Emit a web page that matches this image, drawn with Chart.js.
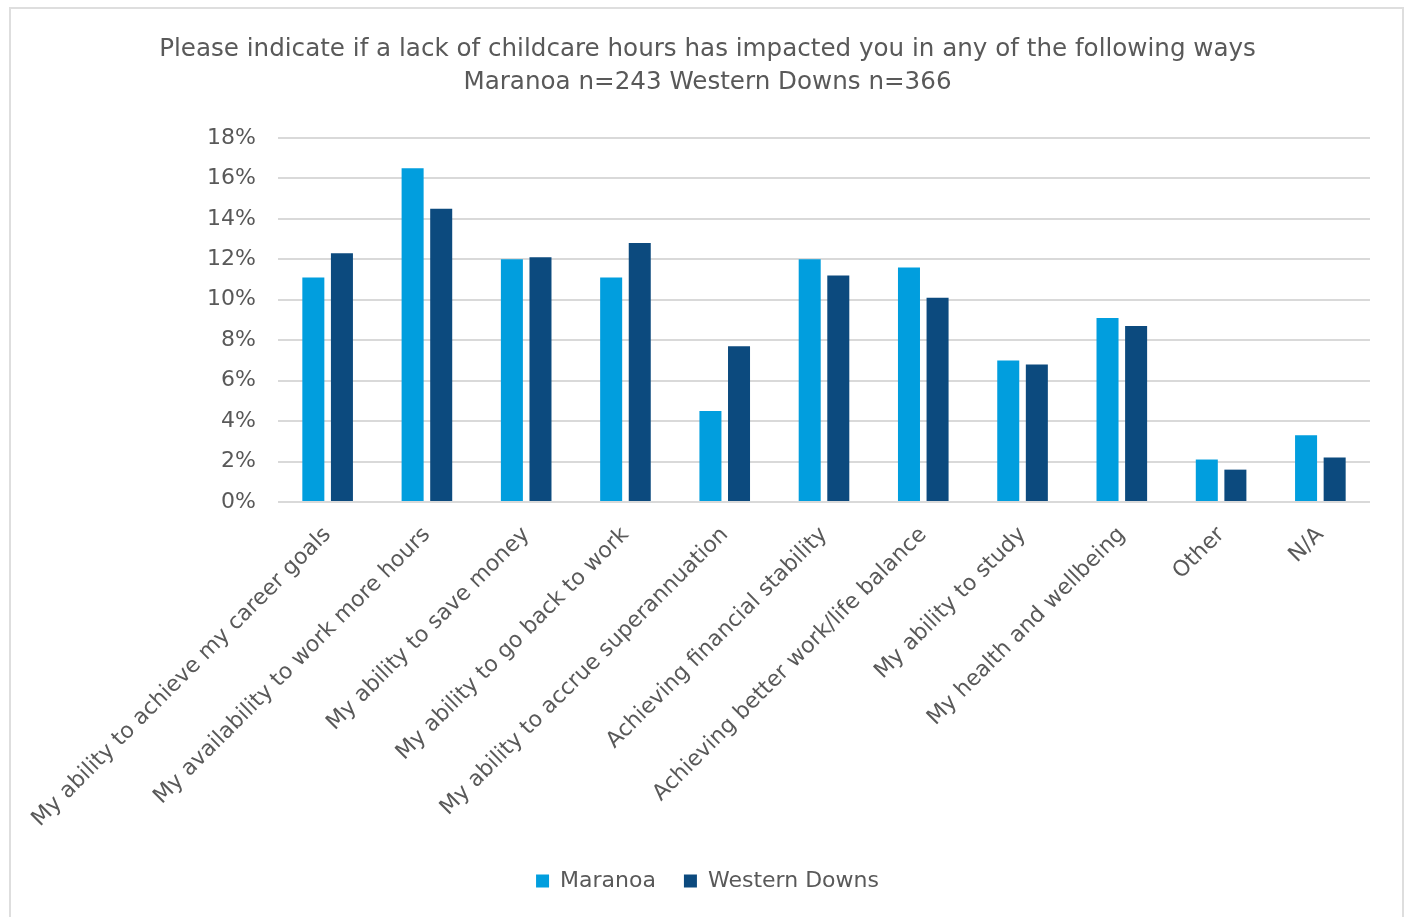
<!DOCTYPE html>
<html>
<head>
<meta charset="utf-8">
<script src="https://cdn.jsdelivr.net/npm/chart.js@4.4.1/dist/chart.umd.min.js"></script>
<style>
  html, body { margin: 0; padding: 0; background: #ffffff; }
  #frame {
    position: absolute; left: 9px; top: 7px; width: 1395px; height: 912px;
    border: 2px solid #dedede; box-sizing: border-box; background: #fff;
  }
  #wrap { position: absolute; left: 0; top: 0; width: 1391px; height: 908px; }
</style>
</head>
<body>
<div id="frame"><div id="wrap"><canvas id="chart"></canvas></div></div>
<script>
// Ways a lack of childcare hours has affected respondents
const categories = [
  "My ability to achieve my career goals",
  "My availability to work more hours",
  "My ability to save money",
  "My ability to go back to work",
  "My ability to accrue superannuation",
  "Achieving financial stability",
  "Achieving better work/life balance",
  "My ability to study",
  "My health and wellbeing",
  "Other",
  "N/A"
];
// Share of respondents (%)
const maranoa       = [11.1, 16.5, 12.0, 11.1, 4.5, 12.0, 11.6, 7.0, 9.1, 2.1, 3.3];
const westernDowns  = [12.3, 14.5, 12.1, 12.8, 7.7, 11.2, 10.1, 6.8, 8.7, 1.6, 2.2];
const yTicks        = [0, 2, 4, 6, 8, 10, 12, 14, 16, 18];
const titleLines    = [
  "Please indicate if a lack of childcare hours has impacted you in any of the following ways",
  "Maranoa n=243 Western Downs n=366"
];

const FONT = "'DejaVu Sans', sans-serif";
const GREY = "#595959";

new Chart(document.getElementById("chart"), {
  type: "bar",
  data: {
    labels: categories,
    datasets: [
      { label: "Maranoa", data: maranoa, backgroundColor: "#019EDE" },
      { label: "Western Downs", data: westernDowns, backgroundColor: "#0C4A7E" }
    ]
  },
  options: {
    responsive: true,
    maintainAspectRatio: false,
    animation: false,
    devicePixelRatio: 1,
    layout: { padding: { top: 14, right: 32, bottom: 15, left: 34 } },
    datasets: { bar: { categoryPercentage: 0.576, barPercentage: 0.77 } },
    plugins: {
      title: {
        display: true,
        text: titleLines,
        color: GREY,
        font: { family: FONT, size: 24.6, weight: "normal", lineHeight: 1.34 },
        padding: { top: 10, bottom: 39 }
      },
      legend: {
        position: "bottom",
        labels: {
          color: GREY,
          font: { family: FONT, size: 22 },
          boxWidth: 13, boxHeight: 13, padding: 28
        }
      },
      tooltip: { enabled: false }
    },
    scales: {
      x: {
        afterFit: (axis) => { axis.height = 340; },
        grid: { display: false },
        border: { display: false },
        ticks: {
          color: GREY,
          font: { family: FONT, size: 22 },
          minRotation: 45, maxRotation: 45,
          autoSkip: false, padding: 12
        }
      },
      y: {
        min: 0, max: 18,
        afterBuildTicks: (axis) => { axis.ticks = yTicks.map(v => ({ value: v })); },
        afterFit: (axis) => { axis.width = 233; },
        grid: { color: "#d9d9d9", lineWidth: 2, drawTicks: false },
        border: { display: false },
        ticks: {
          color: GREY,
          font: { family: FONT, size: 22 },
          padding: 22,
          callback: (v) => v + "%"
        }
      }
    }
  }
});
</script>
</body>
</html>
